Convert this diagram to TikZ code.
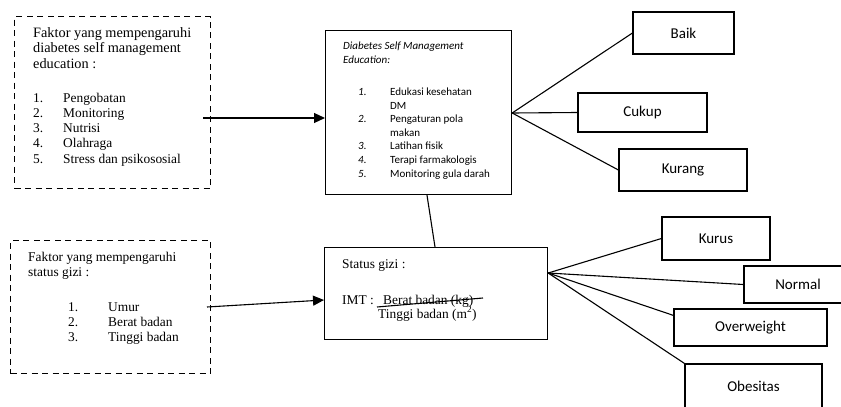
\documentclass[tikz,border=0pt]{standalone}
\usepackage{fontspec}
\usetikzlibrary{arrows.meta}
\newfontfamily\timesfont{Liberation Serif}
\newfontfamily\calfont{Carlito}
\begin{document}
\begin{tikzpicture}[x=1pt,y=-1pt,
  box/.style={draw, line width=1.2pt, rectangle, inner sep=0pt, anchor=north west},
  dbox/.style={box, dash pattern=on 6pt off 4.5pt, line width=1.3pt},
  outbox/.style={draw, line width=1.2pt, rectangle, inner sep=0pt,
    font=\calfont\fontsize{15}{18}\selectfont},
  txt/.style={inner sep=0pt, anchor=base west},
  ttxt/.style={txt, font=\timesfont\fontsize{13.4}{15.3}\selectfont},
  ctxt/.style={txt, font=\calfont\fontsize{11}{13.6}\selectfont},
  link/.style={line width=1.1pt},
  arr/.style={link, -{Triangle[length=11pt,width=10pt]}}]
\useasboundingbox (0,0) rectangle (841,407);
\clip (0,0) rectangle (841,407);

% factor boxes (dashed)
\node[dbox, minimum width=196pt, minimum height=172pt] (f1) at (14,16) {};
\node[dbox, minimum width=200pt, minimum height=133pt] (f2) at (10,240) {};

% central boxes
\node[box, minimum width=186pt, minimum height=164pt] (dsme) at (325,30) {};
\node[box, minimum width=223pt, minimum height=92pt] (gizi) at (324,247) {};

% outcome boxes
\node[outbox, minimum width=101pt, minimum height=42pt] (baik) at (683.5,33) {Baik};
\node[outbox, minimum width=129pt, minimum height=39pt] (cukup) at (642.5,112.5) {Cukup};
\node[outbox, minimum width=128pt, minimum height=42pt] (kurang) at (683,170) {Kurang};
\node[outbox, minimum width=108pt, minimum height=43pt] (kurus) at (716,238.5) {Kurus};
\node[outbox, minimum width=108pt, minimum height=37pt] (normal) at (798,284.5) {Normal};
\node[outbox, minimum width=153pt, minimum height=37pt] (ow) at (750.5,327.5) {Overweight};
\node[outbox, minimum width=137pt, minimum height=44pt] (ob) at (753.5,386) {Obesitas};

% text of the first factor box
\node[ttxt, font=\timesfont\fontsize{14.3}{15.5}\selectfont] (f1head) at (33,37) {\begin{tabular}[t]{@{}l@{}}Faktor yang mempengaruhi\\diabetes self management\\education :\end{tabular}};
\node[ttxt] (f1list) at (33,102) {\begin{tabular}[t]{@{}p{30pt}@{}l@{}}1.&Pengobatan\\2.&Monitoring\\3.&Nutrisi\\4.&Olahraga\\5.&Stress dan psikososial\end{tabular}};

% text of the second factor box
\node[ttxt] (f2head) at (28,261) {\begin{tabular}[t]{@{}l@{}}Faktor yang mempengaruhi\\status gizi :\end{tabular}};
\node[ttxt] (f2list) at (68,311) {\begin{tabular}[t]{@{}p{40pt}@{}l@{}}1.&Umur\\2.&Berat badan\\3.&Tinggi badan\end{tabular}};

% text of the DSME box
\node[ctxt] (dhead) at (343,49.5) {\begin{tabular}[t]{@{}l@{}}\itshape Diabetes Self Management\\\itshape Education:\end{tabular}};
\node[ctxt] (dlist) at (358,95.5) {\begin{tabular}[t]{@{}p{32pt}@{}l@{}}\itshape 1.&Edukasi kesehatan\\&DM\\\itshape 2.&Pengaturan pola\\&makan\\\itshape 3.&Latihan fisik\\\itshape 4.&Terapi farmakologis\\\itshape 5.&Monitoring gula darah\end{tabular}};

% text of the nutritional status box
\node[ttxt] (gtitle) at (342,268) {Status gizi :};
\node[ttxt] (imt) at (342,304) {IMT :};
\node[ttxt] (num) at (383,304) {Berat badan (kg)};
\node[ttxt] (den) at (378,318) {Tinggi badan (m\textsuperscript{2})};
\coordinate (barL) at (377,307);
\coordinate (barR) at (483,298);
\draw[link] (barL) -- (barR);

% arrows from the factor boxes
\coordinate (a1) at (203,118);
\draw[arr] (a1) -- (a1 -| dsme.west);
\coordinate (a2) at (207,307);
\coordinate (a2y) at (0,300);
\draw[arr] (a2) -- (gizi.west |- a2y);

% link between the central boxes
\coordinate (vx1) at (427,0);
\coordinate (vx2) at (435,0);
\draw[link] (dsme.south -| vx1) -- (gizi.north -| vx2);

% fan to the DSME outcomes
\coordinate (h1y) at (0,113);
\coordinate (hub1) at (dsme.east |- h1y);
\draw[link] (hub1) -- (baik.west);
\draw[link] (hub1) -- (cukup.west);
\draw[link] (hub1) -- (kurang.west);

% fan to the nutritional status outcomes
\coordinate (h2y) at (0,273);
\coordinate (hub2) at (gizi.east |- h2y);
\draw[link] (hub2) -- (kurus.west);
\draw[link] (hub2) -- (normal.west);
\draw[link] (hub2) -- ([yshift=-7pt]ow.north west);
\draw[link] (hub2) -- (ob.north west);
\end{tikzpicture}
\end{document}
